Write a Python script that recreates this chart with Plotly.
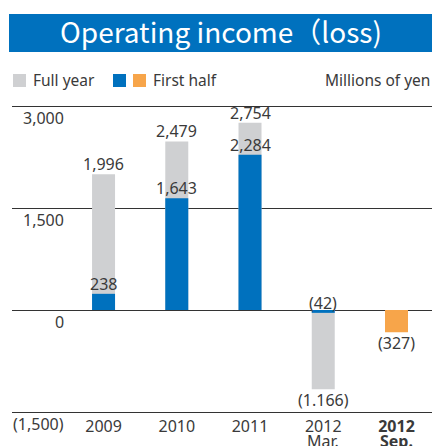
import plotly.graph_objects as go

categories = ["2009", "2010", "2011", "2012 Mar.", "2012 Sep."]
tick_text = ["2009", "2010", "2011", "2012", "<b>2012</b>"]
tick_sub = ["", "", "", "Mar.", "<b>Sep.</b>"]
full_year = [1996, 2479, 2754, -1166, None]
first_half = [238, 1643, 2284, -42, -327]
full_year_labels = ["1,996", "2,479", "2,754", "(1.166)", ""]
first_half_labels = ["238", "1,643", "2,284", "(42)", "(327)"]
first_half_label_above = [True, True, True, True, False]
y_ticks = [3000, 1500, 0, -1500]
y_tick_labels = ["3,000", "1,500", "0", "(1,500)"]

GRAY = "#CFD0D2"
BLUE = "#0071BE"
ORANGE = "#F7A54A"
TEXT = "#3a3a3a"
FONT = "Noto Sans"

W, H = 432, 446
ML, MR, MT, MB = 12, 0, 104, 34
PW, PH = W - ML - MR, H - MT - MB

def px_x(p):
    return (p - ML) / PW

def px_y(p):
    return (H - MB - p) / PH

half_colors = [BLUE, BLUE, BLUE, BLUE, ORANGE]
idx = list(range(len(categories)))  # category positions on the axis

fig = go.Figure()
fig.add_trace(go.Bar(x=categories, y=full_year, marker_color=GRAY, width=0.314,
                     marker_line_width=0, hoverinfo="skip"))
fig.add_trace(go.Bar(x=categories, y=first_half, marker_color=half_colors, width=0.314,
                     marker_line_width=0, hoverinfo="skip"))

annotations = []
lab_font = dict(family=FONT, size=16, color=TEXT)
for i, v, t in zip(idx, full_year, full_year_labels):
    if v is None or not t:
        continue
    annotations.append(dict(xref="x", yref="y", x=i, y=v, xanchor="center", yanchor="middle",
                            yshift=10 if v >= 0 else -11, text=t, showarrow=False, font=lab_font))
for i, v, t, above in zip(idx, first_half, first_half_labels, first_half_label_above):
    annotations.append(dict(xref="x", yref="y", x=i, y=v, xanchor="center", yanchor="middle",
                            yshift=10 if above else -11, text=t, showarrow=False, font=lab_font))

for v, t in zip(y_ticks, y_tick_labels):
    annotations.append(dict(xref="paper", yref="y", x=px_x(66), y=v, xanchor="right",
                            yanchor="middle", yshift=-12, text=t, showarrow=False, font=lab_font))

# second line of category labels
for i, t in zip(idx, tick_sub):
    if t:
        annotations.append(dict(xref="x", yref="paper", x=i, y=px_y(441), xanchor="center",
                                yanchor="middle", text=t, showarrow=False, font=lab_font))

# title band
shapes = [dict(type="rect", xref="paper", yref="paper", x0=px_x(9), x1=px_x(432),
               y0=px_y(52), y1=px_y(14), fillcolor=BLUE, line_width=0, layer="above")]
annotations.append(dict(xref="paper", yref="paper", x=px_x(220.5), y=px_y(31),
                        xanchor="center", yanchor="middle", showarrow=False,
                        text="Operating income（loss)",
                        font=dict(family="Noto Sans CJK JP", size=28, color="white")))
# legend
for x0, c in [(13, GRAY), (113, BLUE), (133, ORANGE)]:
    shapes.append(dict(type="rect", xref="paper", yref="paper", x0=px_x(x0), x1=px_x(x0 + 13),
                       y0=px_y(87), y1=px_y(74), fillcolor=c, line_width=0))
leg_font = dict(family=FONT, size=15.5, color=TEXT)
annotations.append(dict(xref="paper", yref="paper", x=px_x(31), y=px_y(80), xanchor="left",
                        yanchor="middle", showarrow=False, text="Full year", font=leg_font))
annotations.append(dict(xref="paper", yref="paper", x=px_x(151), y=px_y(80), xanchor="left",
                        yanchor="middle", showarrow=False, text="First half", font=leg_font))
annotations.append(dict(xref="paper", yref="paper", x=px_x(432), y=px_y(80), xanchor="right",
                        yanchor="middle", showarrow=False, text="Millions of yen", font=leg_font))

fig.update_layout(
    width=W, height=H, margin=dict(l=ML, r=MR, t=MT, b=MB, pad=0, autoexpand=False),
    paper_bgcolor="white", plot_bgcolor="white", barmode="overlay", showlegend=False,
    shapes=shapes, annotations=annotations,
    xaxis=dict(type="category", range=[-1.25, 4.485], tickvals=categories, ticktext=tick_text,
               showgrid=False, zeroline=False, showline=True, linecolor="#333333", linewidth=1.3,
               ticks="", automargin=False,
               tickfont=dict(family=FONT, size=16, color=TEXT), fixedrange=True),
    yaxis=dict(range=[-1500, 3029.4], tickvals=y_ticks, showticklabels=False, automargin=False,
               showgrid=True, gridcolor="#333333", gridwidth=1.3, zeroline=False,
               showline=False, ticks="", fixedrange=True),
)

fig.write_html("out.html", config={"displayModeBar": False},
               post_script="document.body.style.margin='0';document.body.style.overflow='hidden';")
